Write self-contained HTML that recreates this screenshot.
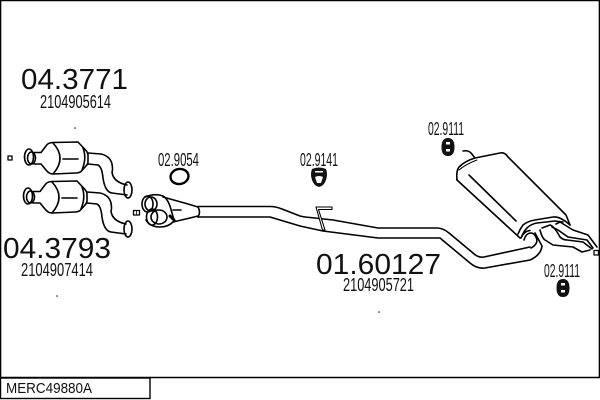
<!DOCTYPE html>
<html><head><meta charset="utf-8"><style>
html,body{margin:0;padding:0;background:#fff}
svg{display:block}
text{font-family:"Liberation Sans",sans-serif;fill:#111}
</style></head><body>
<svg width="600" height="400" viewBox="0 0 600 400" xmlns="http://www.w3.org/2000/svg">
<rect width="600" height="400" fill="#fff"/>
<g fill="none" stroke="#000" stroke-width="1.5">
<path d="M0.5 0V377M0 0.5H600M599.5 0V377M0 377.5H600" stroke-width="1.6"/>
<rect x="0.5" y="378" width="149.5" height="20.5" stroke-width="1.4"/>
</g>
<g fill="none" stroke="#000" stroke-width="1.6" stroke-linejoin="round" stroke-linecap="round">
<!-- catalyst 1 -->
<ellipse cx="29" cy="157" rx="4.500" ry="8"/>
<ellipse cx="31.500" cy="158" rx="4" ry="6"/>
<path d="M34 152.500H41L46 146Q48 142.500 53 142.500L78 142L86 150.500Q88 153 88 155V162Q88 164 86 166L81 171.500Q79 173 76 173L53 174Q49 174 46 170L41 164H34"/>
<path d="M53 143Q67 158 53 174"/>
<path d="M63 159H78"/>
<path d="M83 148Q87 158 82 170"/>
<path d="M88 153L101 154Q110 156 112 164Q113 170 112 172Q113 182 127 185"/>
<path d="M88 164L98 165Q102 167 103 178Q105 192 112 193L127 195"/>
<ellipse cx="128" cy="190" rx="4" ry="8"/>
<!-- catalyst 2 -->
<g transform="translate(-1 39)">
<ellipse cx="29" cy="157" rx="4.500" ry="8"/>
<ellipse cx="31.500" cy="158" rx="4" ry="6"/>
<path d="M34 152.500H41L46 146Q48 142.500 53 142.500L78 142L86 150.500Q88 153 88 155V162Q88 164 86 166L81 171.500Q79 173 76 173L53 174Q49 174 46 170L41 164H34"/>
<path d="M53 143Q67 158 53 174"/>
<path d="M63 159H78"/>
<path d="M83 148Q87 158 82 170"/>
<path d="M88 153L101 154Q110 156 112 164Q113 170 112 172Q113 182 127 185"/>
<path d="M88 164L98 165Q102 167 103 178Q105 192 112 193L127 195"/>
<ellipse cx="129" cy="190" rx="4" ry="8"/>
</g>
<rect x="8" y="156" width="4" height="4" stroke-width="1.300"/>
<rect x="133.500" y="210.500" width="6" height="4.500" stroke-width="1.300"/>
<path d="M136.500 210.500V215" stroke-width="0.800"/>
<ellipse cx="179.500" cy="176.500" rx="9" ry="7.500" stroke-width="2.400" transform="rotate(-10 179.500 176.500)"/>
<!-- Y pipe -->
<ellipse cx="147.500" cy="204" rx="5.500" ry="8"/>
<ellipse cx="151" cy="204" rx="6" ry="7"/>
<ellipse cx="152" cy="217" rx="5.500" ry="8"/>
<ellipse cx="159" cy="217" rx="8" ry="7"/>
<path d="M145 197Q155 193 163 196Q167 198 170 206L174 220"/>
<path d="M146 220Q150 227 160 227Q168 227 173 222"/>
<path d="M163 197L188 204L198 207"/>
<path d="M173 222L190 218L198 216"/>
<path d="M198 207Q201 212 198 217"/>
<path d="M173 210H181"/>
<path d="M170 216L174 220" stroke-width="3"/>
<!-- mid pipe -->
<path d="M198 206.500H270Q276 206.500 282 209L300 216Q304 217 310 217.500L333 220L378 228H437Q443 228 449 233L473 253Q478 258 484 257L530 247"/>
<path d="M198 217H270L300 226L323 231L378 238H440L470 263Q477 269 485 268L530 260Q541 255 542 246L535 233"/>
<path d="M332 207H316L322.500 230H325L318.500 209.500H332Z" stroke-width="1.100" fill="#fff"/>
<!-- muffler -->
<path d="M457 180Q456 171 459 167Q465 161 475 158L500 153Q505 152 508 157L566 215L570 225"/>
<path d="M459 170Q466 164 477 160" stroke-width="1"/>
<path d="M457 180L520 238"/>
<path d="M469 175L516 221"/>
<path d="M463 151Q468 150 471 153L475 158"/>
<path d="M518 234Q520 229 523 225Q528 221 535 220L553 217Q560 216 570 225"/>
<path d="M522 236Q524 231 527 228Q531 224 537 223L555 221L563 222"/>
<!-- tailpipes -->
<path d="M524 240Q526 233 531 233Q535 233 537 240Q537 245 531 248"/>
<path d="M521 238Q524 231 530 230.500"/>
<path d="M542 228L550 225Q554 226 560 237Q563 240 567 240L583 242L592 249"/>
<path d="M540 230Q542 238 545 240L553 245L573 247L582 252L590 250"/>
<path d="M556 224L560 222L573 230L588 235L597 247"/>
<path d="M552 227L558 230L568 237L587 240L593 248"/>
<rect x="594" y="250.500" width="4.500" height="4.500" stroke-width="1.300"/>
</g>
<!-- hangers -->
<g fill="#111" stroke="none">
<path fill-rule="evenodd" d="M448 138Q454.500 138 454.500 147Q454.500 156 448 156Q441.500 156 441.500 147Q441.500 138 448 138ZM446 142V144.500H450V142ZM446 149V151.500H450V149Z"/>
<path fill-rule="evenodd" d="M563 279Q569.500 279 569.500 288Q569.500 297 563 297Q556.500 297 556.500 288Q556.500 279 563 279ZM561 283V285.500H565V283ZM561 290V292.500H565V290Z"/>
<path fill-rule="evenodd" d="M312 169Q319 166 326 169Q328 174 326 180Q324 186 319 187Q314 186 312 180Q310 174 312 169ZM315 177Q319 175 323 177L321 183H317Z"/>
<rect x="315" y="171" width="8" height="1.500" fill="#fff"/>
<circle cx="75" cy="128" r="0.800"/>
<circle cx="57" cy="296" r="0.800"/>
<circle cx="379" cy="312" r="0.800"/>
</g>
<!-- labels -->
<text x="21" y="89" font-size="29" textLength="107" lengthAdjust="spacingAndGlyphs">04.3771</text>
<text x="40" y="108" font-size="18" textLength="71" lengthAdjust="spacingAndGlyphs">2104905614</text>
<text x="3" y="258" font-size="29" textLength="108" lengthAdjust="spacingAndGlyphs">04.3793</text>
<text x="21" y="276" font-size="18" textLength="72" lengthAdjust="spacingAndGlyphs">2104907414</text>
<text x="316" y="274" font-size="29" textLength="125" lengthAdjust="spacingAndGlyphs">01.60127</text>
<text x="343" y="291" font-size="18" textLength="71" lengthAdjust="spacingAndGlyphs">2104905721</text>
<text x="158" y="166" font-size="18" textLength="41" lengthAdjust="spacingAndGlyphs">02.9054</text>
<text x="300" y="166" font-size="18" textLength="38" lengthAdjust="spacingAndGlyphs">02.9141</text>
<text x="428" y="135" font-size="18" textLength="36" lengthAdjust="spacingAndGlyphs">02.9111</text>
<text x="544" y="277" font-size="18" textLength="36" lengthAdjust="spacingAndGlyphs">02.9111</text>
<text x="6" y="393" font-size="15" textLength="86" lengthAdjust="spacingAndGlyphs">MERC49880A</text>
</svg>
</body></html>
